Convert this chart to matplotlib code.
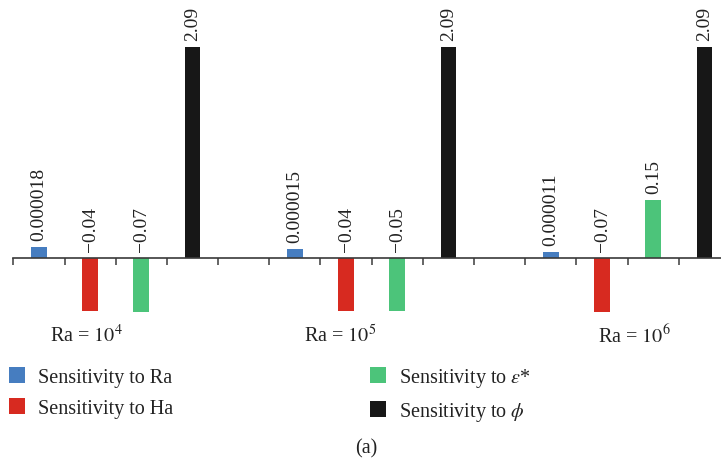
import numpy as np
import matplotlib.pyplot as plt
from matplotlib.patches import Patch

plt.rcParams['font.family'] = ['Liberation Serif', 'DejaVu Serif']
plt.rcParams['mathtext.fontset'] = 'stix'

# sensitivity of the Nusselt number for each Rayleigh number
groups = ['Ra = $10^{4}$', 'Ra = $10^{5}$', 'Ra = $10^{6}$']
series = ['Sensitivity to Ra', 'Sensitivity to Ha',
          r'Sensitivity to $\varepsilon$*', r'Sensitivity to $\phi$']
sens_ra = [0.000018, 0.000015, 0.000011]
sens_ha = [-0.04, -0.04, -0.07]
sens_eps = [-0.07, -0.05, 0.15]
sens_phi = [2.09, 2.09, 2.09]
colors = ['#467DC0', '#D72A20', '#4CC47A', '#171717']

# non-linear bar scale: tiny values still visible, big ones compressed
level_knots = [0, 1e-5, 2e-5, 0.04, 0.15, 2.09, 5.0]
height_knots = [0, 0.028, 0.057, 0.25, 0.275, 1.0, 1.6]


def squash(v):
    v = np.asarray(v, dtype=float)
    return np.sign(v) * np.interp(np.abs(v), level_knots, height_knots)


def unsquash(h):
    h = np.asarray(h, dtype=float)
    return np.sign(h) * np.interp(np.abs(h), height_knots, level_knots)


def fmt(v):
    s = '%.6f' % v if abs(v) < 1e-3 else '%.2f' % v
    return s.replace('-', '\u2212')


fig = plt.figure(figsize=(7.21, 4.60), dpi=100)
ax = fig.add_axes([13.3 / 721, 0.2304, 716.8 / 721, 0.711])
ax.set_yscale('function', functions=(squash, unsquash))

all_series = [sens_ra, sens_ha, sens_eps, sens_phi]
for s, vals in enumerate(all_series):
    xs = [5 * g + s for g in range(len(groups))]
    ax.bar(xs, vals, width=0.31, color=colors[s], label=series[s])
    for x, v in zip(xs, vals):
        ax.annotate(fmt(v), (x, max(v, 0)), xytext=(0, 5),
                    textcoords='offset points', rotation=90,
                    ha='center', va='bottom', fontsize=14, color='#222222')

ax.set_xlim(-0.5, 13.5)
ax.set_ylim(unsquash(-0.45), unsquash(1.1))
ax.set_xticks(np.arange(-0.5, 14, 1))
ax.set_xticklabels([])
ax.set_yticks([])
ax.minorticks_off()
ax.tick_params(axis='x', direction='out', length=5, width=1.1, color='#3a3a3a')
for side in ['left', 'right', 'top']:
    ax.spines[side].set_visible(False)
ax.spines['bottom'].set_position(('data', 0))
ax.spines['bottom'].set_color('#3a3a3a')
ax.spines['bottom'].set_linewidth(1.2)

# group captions under the axis
for xg, name in zip([0.92, 5.88, 11.64], groups):
    ax.text(xg, 0.055, name, transform=ax.get_xaxis_transform(),
            ha='center', va='center', fontsize=14.5, color='#222222')

handles = [Patch(facecolor=c, edgecolor='none') for c in colors]
fig.legend(handles, series, loc='upper left', bbox_to_anchor=(0.0125, 0.202),
           ncol=2, frameon=False, fontsize=14.5, borderpad=0,
           borderaxespad=0, handlelength=0.8, handleheight=0.8,
           handletextpad=0.65, columnspacing=9.75, labelspacing=0.55,
           labelcolor='#222222')

fig.text(0.508, 0.025, '(a)', ha='center', va='center', fontsize=14.5,
         color='#222222')

fig.savefig('out.png', dpi=100)
